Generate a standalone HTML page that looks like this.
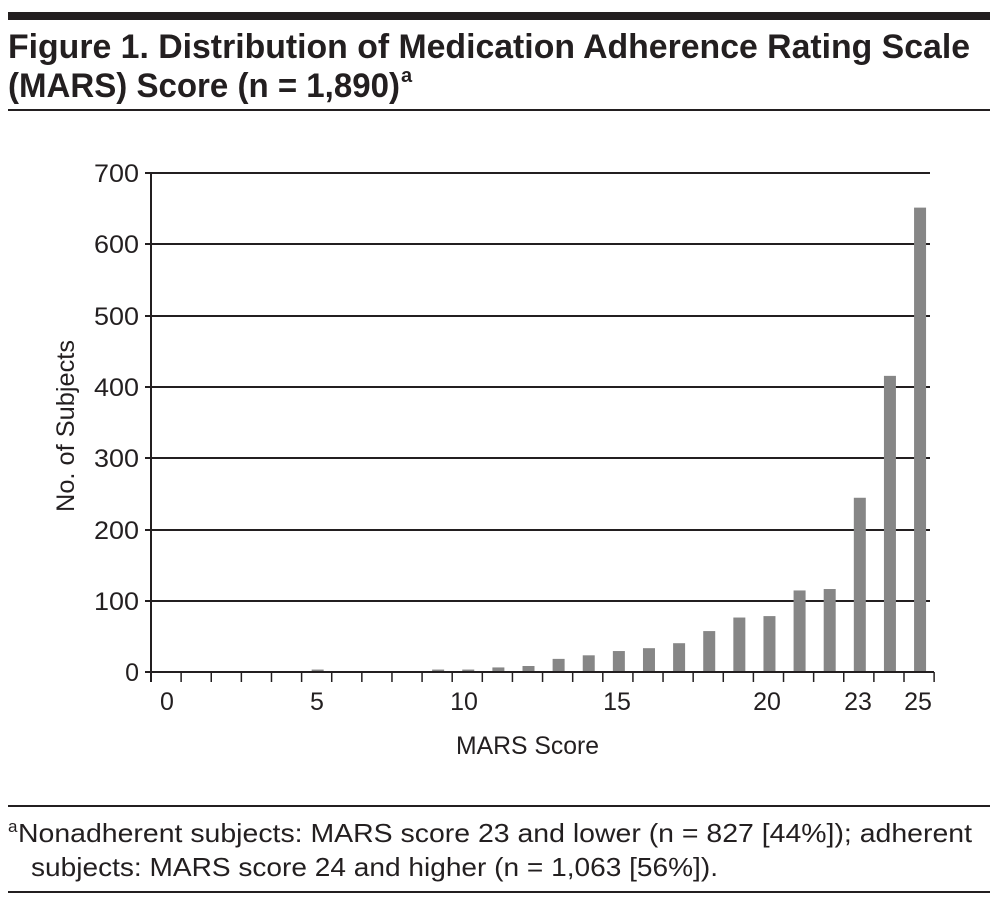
<!DOCTYPE html>
<html><head><meta charset="utf-8"><style>
html,body{margin:0;padding:0;background:#fff;}
svg{display:block;}
text{font-family:"Liberation Sans Narrow","Liberation Sans",sans-serif;fill:#231f20;}
</style></head><body>
<svg width="999" height="903" viewBox="0 0 999 903" xmlns="http://www.w3.org/2000/svg">
<rect x="8" y="12" width="982" height="8" fill="#231f20"/>
<text x="8" y="58" font-size="34" font-weight="bold" textLength="962" lengthAdjust="spacingAndGlyphs">Figure 1. Distribution of Medication Adherence Rating Scale</text>
<text x="8" y="97" font-size="34" font-weight="bold" textLength="392" lengthAdjust="spacingAndGlyphs">(MARS) Score (n = 1,890)</text>
<text x="401" y="82" font-size="20" font-weight="bold">a</text>
<rect x="8" y="109" width="982" height="2" fill="#231f20"/>

<g stroke="#231f20" stroke-width="2">
<line x1="145" y1="173" x2="930" y2="173"/>
<line x1="145" y1="244" x2="930" y2="244"/>
<line x1="145" y1="316" x2="930" y2="316"/>
<line x1="145" y1="387" x2="930" y2="387"/>
<line x1="145" y1="458" x2="930" y2="458"/>
<line x1="145" y1="530" x2="930" y2="530"/>
<line x1="145" y1="601" x2="930" y2="601"/>
<line x1="145" y1="672" x2="934" y2="672"/>
<line x1="151" y1="173" x2="151" y2="682"/>
</g>
<g stroke="#231f20" stroke-width="1.5" id="ticks"></g>
<g fill="#868686" id="bars"></g>
<g font-size="25" text-anchor="end">
<text x="139" y="182" textLength="45" lengthAdjust="spacingAndGlyphs">700</text><text x="139" y="253" textLength="45" lengthAdjust="spacingAndGlyphs">600</text><text x="139" y="325" textLength="45" lengthAdjust="spacingAndGlyphs">500</text>
<text x="139" y="396" textLength="45" lengthAdjust="spacingAndGlyphs">400</text><text x="139" y="467" textLength="45" lengthAdjust="spacingAndGlyphs">300</text><text x="139" y="539" textLength="45" lengthAdjust="spacingAndGlyphs">200</text>
<text x="139" y="610" textLength="45" lengthAdjust="spacingAndGlyphs">100</text><text x="139" y="681">0</text>
</g>
<g font-size="25" text-anchor="middle">
<text x="167" y="710">0</text><text x="317" y="710">5</text><text x="464" y="710">10</text>
<text x="617" y="710">15</text><text x="767" y="710">20</text><text x="858" y="710">23</text><text x="918" y="710">25</text>
</g>
<text x="456" y="754" font-size="25" textLength="143" lengthAdjust="spacingAndGlyphs">MARS Score</text>
<text transform="translate(74,512) rotate(-90)" font-size="25" textLength="172" lengthAdjust="spacingAndGlyphs">No. of Subjects</text>

<rect x="8" y="805" width="982" height="2" fill="#231f20"/>
<text x="8" y="832" font-size="17">a</text>
<text x="18" y="842" font-size="26" textLength="954" lengthAdjust="spacingAndGlyphs">Nonadherent subjects: MARS score 23 and lower (n = 827 [44%]); adherent</text>
<text x="31" y="876" font-size="26" textLength="687" lengthAdjust="spacingAndGlyphs">subjects: MARS score 24 and higher (n = 1,063 [56%]).</text>
<rect x="8" y="891" width="982" height="2" fill="#231f20"/>
<script>
var ns="http://www.w3.org/2000/svg";
var vals=[0,0,0,0,0,2,0,0,0,2,2,5,7,17,22,28,32,39,56,75,77,113,115,243,414,650];
var b=document.getElementById("bars"),t=document.getElementById("ticks");
var w=30.12;
for(var i=0;i<=26;i++){var l=document.createElementNS(ns,"line");var x=151+w*i;
l.setAttribute("x1",x);l.setAttribute("x2",x);l.setAttribute("y1",672);l.setAttribute("y2",682);t.appendChild(l);}
for(var k=0;k<26;k++){if(!vals[k])continue;var h=vals[k]*0.7129;var c=151+w*(k+0.5)+1;
var r=document.createElementNS(ns,"rect");r.setAttribute("x",c-6);r.setAttribute("width",12);
r.setAttribute("y",671-h);r.setAttribute("height",h);b.appendChild(r);}
</script>
</svg>
</body></html>
